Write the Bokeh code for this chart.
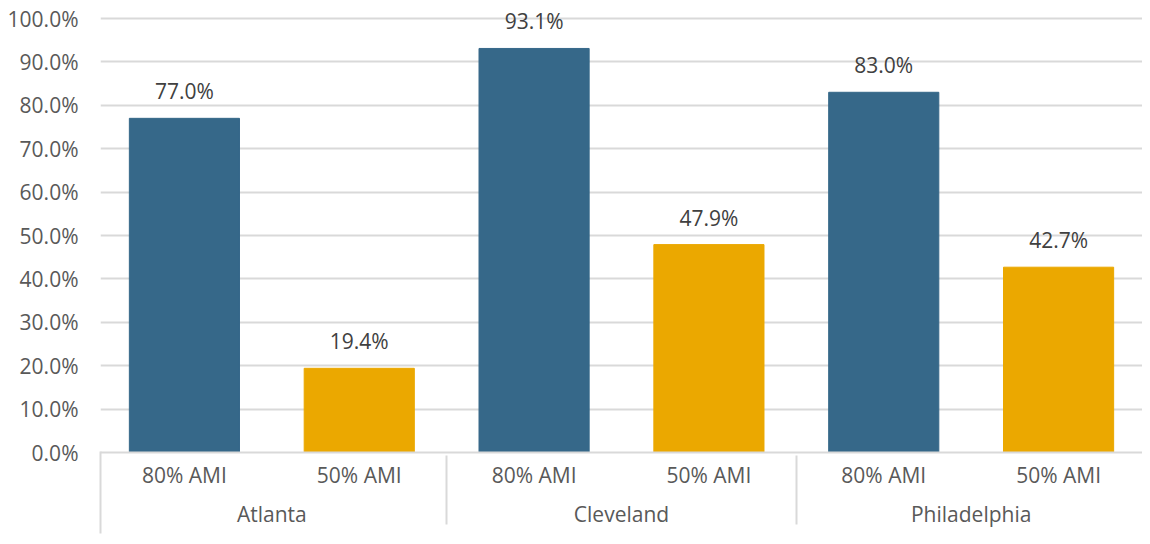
from bokeh.plotting import figure
from bokeh.models import (FactorRange, ColumnDataSource, NumeralTickFormatter, FixedTicker,
                          Range1d, LinearAxis, CustomJSTickFormatter)
from bokeh.core.properties import value
from bokeh.embed import file_html
from bokeh.resources import INLINE

cities = ["Atlanta", "Cleveland", "Philadelphia"]
levels = ["80% AMI", "50% AMI"]
ami80 = [0.770, 0.931, 0.830]
ami50 = [0.194, 0.479, 0.427]
colors = {"80% AMI": "#366889", "50% AMI": "#eba800"}

factors, vals, cols, labels = [], [], [], []
for c, a, b in zip(cities, ami80, ami50):
    for lv, v in zip(levels, [a, b]):
        factors.append((c, lv))
        vals.append(v)
        cols.append(colors[lv])
        labels.append(f"{v*100:.1f}%")

src = ColumnDataSource(dict(x=factors, top=vals, color=cols, label=labels))

FONT = "Open Sans"
TXT = "#595959"
FS = "21px"
GRID = "#d9d9d9"

xr = FactorRange(*factors, group_padding=0, factor_padding=0,
                 range_padding=-0.02, range_padding_units="absolute")

p = figure(x_range=xr, y_range=Range1d(0, 1.03), width=1142, height=536,
           output_backend="svg", toolbar_location=None,
           min_border_left=100, min_border_right=0, min_border_top=5, min_border_bottom=84)
p.outline_line_color = None
p.vbar(x="x", top="top", width=0.63, color="color", source=src)
p.text(x="x", y="top", text="label", source=src, text_align="center", text_baseline="bottom",
       y_offset=-13, text_font=value(FONT), text_font_size=FS, text_color="#404040")

p.yaxis.ticker = FixedTicker(ticks=[i / 10 for i in range(11)])
p.yaxis.formatter = NumeralTickFormatter(format="0.0%")
p.yaxis.axis_line_color = None
p.yaxis.major_tick_line_color = None
p.yaxis.minor_tick_line_color = None
p.yaxis.major_tick_out = 0
p.yaxis.major_label_text_font = FONT
p.yaxis.major_label_text_font_size = FS
p.yaxis.major_label_text_color = TXT
p.yaxis.major_label_standoff = 22

p.xgrid.grid_line_color = None
p.ygrid.grid_line_color = GRID
p.ygrid.grid_line_width = 2

ax = p.xaxis[0]
ax.axis_line_color = GRID
ax.axis_line_width = 2
ax.major_tick_line_color = None
ax.minor_tick_line_color = None
ax.major_tick_out = 0
ax.major_label_text_font = FONT
ax.major_label_text_font_size = FS
ax.major_label_text_color = TXT
ax.major_label_standoff = 8
ax.group_text_font = FONT
ax.group_text_font_size = FS
ax.group_text_color = TXT
ax.group_text_font_style = "normal"
ax.separator_line_color = GRID
ax.separator_line_width = 2

# left border of the category table: one inward tick at the left frame edge
edge = LinearAxis(ticker=FixedTicker(ticks=[0.021]),
                  formatter=CustomJSTickFormatter(code="return ''"),
                  axis_line_color=None, minor_tick_line_color=None,
                  major_tick_line_color=GRID, major_tick_line_width=2,
                  major_tick_in=79, major_tick_out=3, major_label_standoff=0,
                  major_label_text_font_size="1px")
p.add_layout(edge, "below")

open("out.html", "w").write(file_html(p, INLINE))
